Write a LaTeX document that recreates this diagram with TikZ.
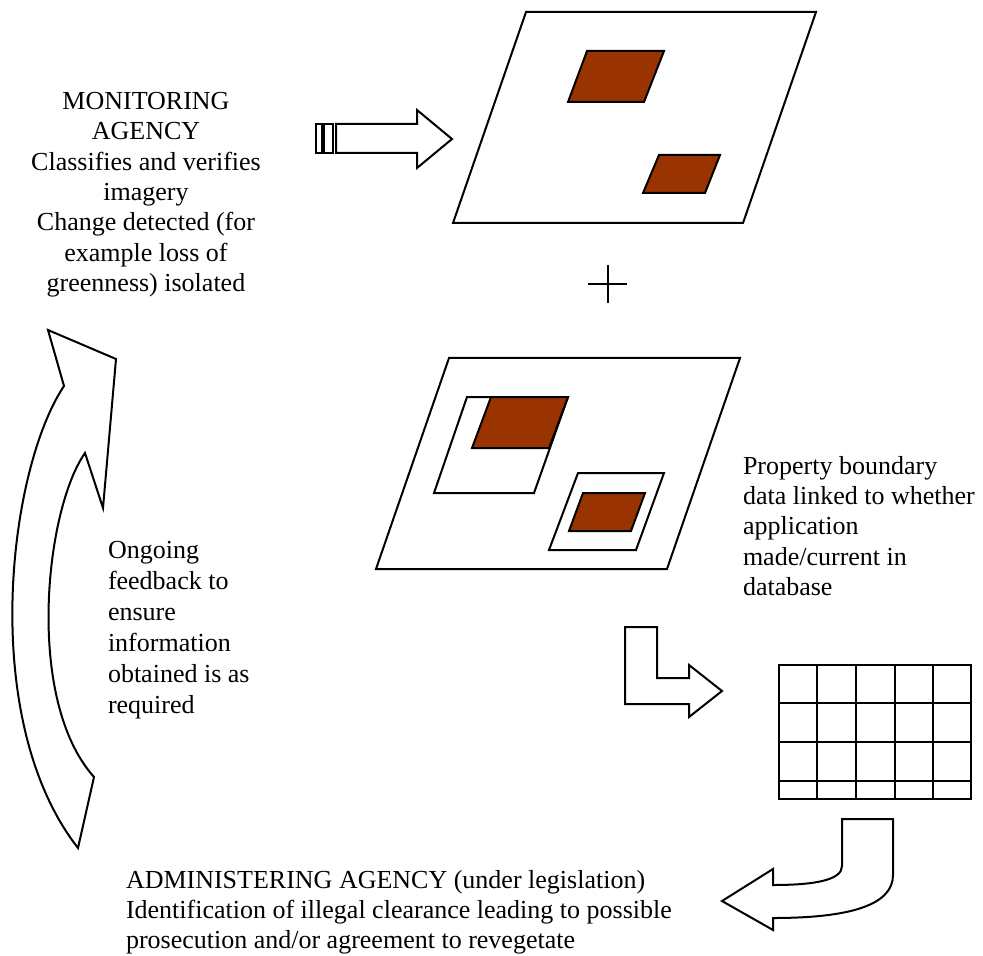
\documentclass[tikz,border=0pt]{standalone}
\usepackage{fontspec}
\setmainfont{Liberation Serif}
\definecolor{clearing}{HTML}{993300}

\tikzset{
    tile/.style={fill=white, draw=black},
    patch/.style={fill=clearing, draw=black},
    blockarrow/.style={fill=white, draw=black},
    blurb/.style={inner sep=0pt, font=\fontsize{13}{15.2}\selectfont}
}

\begin{document}
\begin{tikzpicture}[x=0.5pt, y=-0.5pt, line width=1pt]
        \useasboundingbox (0,0) rectangle (983,956);

        % draw the first image tile with the cleared patches
        \filldraw[tile] (526,12) -- (816,12) -- (743,223) -- (453,223) -- cycle;
        \filldraw[patch] (587,51) -- (664,51) -- (644,102) -- (568,102) -- cycle;
        \filldraw[patch] (659,155) -- (720,155) -- (705,193) -- (643,193) -- cycle;

        % the plus sign
        \draw (588,284) -- (627,284);
        \draw (608,265) -- (608,303);

        % draw the second tile with the property boundaries
        \filldraw[tile] (449,358) -- (740,358) -- (667,569) -- (376,569) -- cycle;
        \draw (467,397) -- (568,397) -- (534,493) -- (434,493) -- cycle;
        \filldraw[patch] (491,397) -- (568,397) -- (549,448) -- (472,448) -- cycle;
        \draw (578,473) -- (664,473) -- (636,550) -- (549,550) -- cycle;
        \filldraw[patch] (583,493) -- (645,493) -- (631,531) -- (569,531) -- cycle;

        % the database table
        \draw (779,665) rectangle (971,799);
        \foreach \x in {817,856,895,933}
            \draw (\x,665) -- (\x,799);
        \foreach \y in {703,742,781}
            \draw (779,\y) -- (971,\y);

        % the block arrows
        \draw (316,124) rectangle (322,153);
        \draw (324,124) rectangle (333,153);
        \filldraw[blockarrow] (336,124) -- (417,124) -- (417,110) -- (452,139) -- (417,168) -- (417,153) -- (336,153) -- cycle;

        \filldraw[blockarrow] (625,627) -- (657,627) -- (657,678) -- (689,678) -- (689,665) -- (722,691) -- (689,717) -- (689,704) -- (625,704) -- cycle;

        \filldraw[blockarrow] (842,819) -- (893,819) -- (893,875)
            .. controls (893,905) and (850,918) .. (773,918)
            -- (773,930) -- (722,901) -- (773,869) -- (773,885)
            .. controls (815,885) and (842,880) .. (842,866) -- cycle;

        \filldraw[blockarrow] (48,330) -- (116,359) -- (103,508) -- (85,453)
            .. controls (45,510) and (25,700) .. (94,777) -- (78,848)
            .. controls (-22,720) and (8,470) .. (64,386) -- cycle;

        % the texts
        \node[blurb, align=center, anchor=north] (monitoring) at (146,91)
            {MONITORING\\AGENCY\\Classifies and verifies\\imagery\\Change detected (for\\example loss of\\greenness) isolated};
        \node[blurb, align=left, anchor=north west, font=\fontsize{13}{15.5}\selectfont] (feedback) at (107,540)
            {Ongoing\\feedback to\\ensure\\information\\obtained is as\\required};
        \node[blurb, align=left, anchor=north west] (property) at (742,455)
            {Property boundary\\data linked to whether\\application\\made/current in\\database};
        \node[blurb, align=left, anchor=north west] (administering) at (125,869)
            {ADMINISTERING AGENCY (under legislation)\\Identification of illegal clearance leading to possible\\prosecution and/or agreement to revegetate};

    \end{tikzpicture}
\end{document}
